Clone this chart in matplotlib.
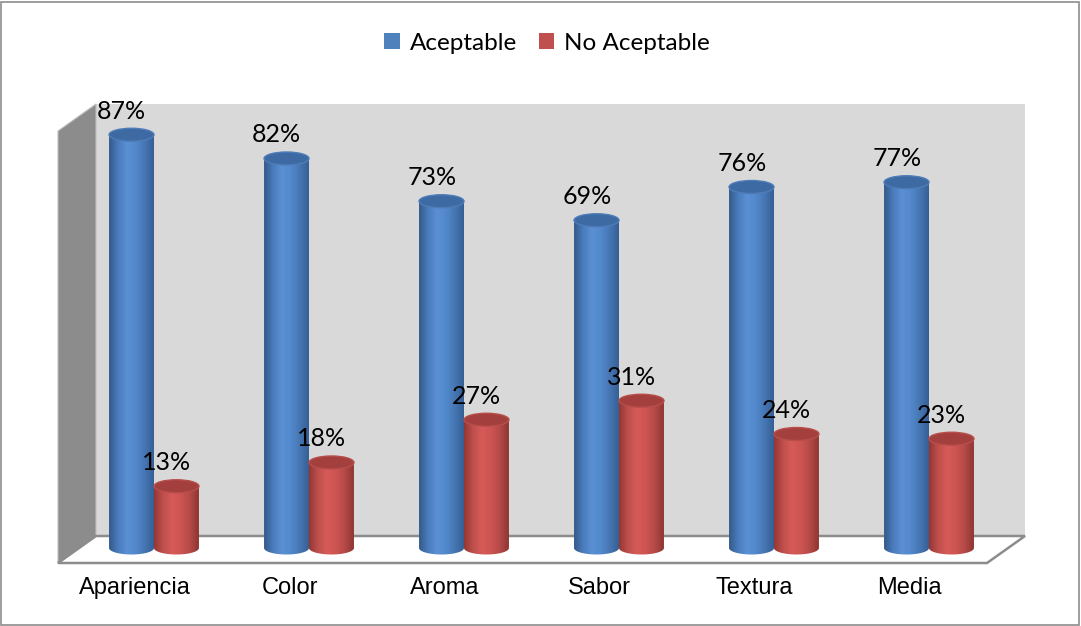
import numpy as np
import matplotlib
matplotlib.use("Agg")
import matplotlib.pyplot as plt
from matplotlib.patches import Polygon, Rectangle, Ellipse, Patch, PathPatch
from matplotlib.path import Path
from matplotlib.colors import LinearSegmentedColormap

categories = ["Apariencia", "Color", "Aroma", "Sabor", "Textura", "Media"]
aceptable = [87, 82, 73, 69, 76, 77]
no_aceptable = [13, 18, 27, 31, 24, 23]
series_names = ["Aceptable", "No Aceptable"]

W, H = 1081, 626
fig = plt.figure(figsize=(W / 100, H / 100), dpi=100)
fig.patch.set_facecolor("white")


def px(x, y):
    return (x / W, 1 - y / H)


# chart border
fig.patches.append(Rectangle((0.5 / W, 1.5 / H), (W - 2.5) / W, (H - 3.5) / H,
                             transform=fig.transFigure, fill=False,
                             edgecolor="#8c8c8c", lw=1.2, zorder=-1))

# 3d walls (decoration)
left_wall = [px(58, 131), px(96, 104), px(96, 536), px(58, 563)]
back_wall = [px(96, 104), px(1025, 104), px(1025, 536), px(96, 536)]
floor = [px(58, 563), px(96, 536), px(1025, 536), px(987, 563)]
fig.patches.append(Polygon(back_wall, closed=True, transform=fig.transFigure,
                           facecolor="#d9d9d9", edgecolor="none", zorder=-1))
fig.patches.append(Polygon(left_wall, closed=True, transform=fig.transFigure,
                           facecolor="#8c8c8c", edgecolor="#bfbfbf", lw=0.8,
                           zorder=-1))
fig.patches.append(Polygon(floor, closed=True, transform=fig.transFigure,
                           facecolor="white", edgecolor="#8c8c8c", lw=1.8,
                           zorder=-1))

px_per_unit = 4.75
ymin, ymax = -5, 100
zero_px = 548
ax = fig.add_axes([76.5 / W, (H - zero_px - (-ymin) * px_per_unit) / H,
                   930 / W, (ymax - ymin) * px_per_unit / H])
ax.set_zorder(2)
ax.set_xlim(-0.5, 5.5)
ax.set_ylim(ymin, ymax)
ax.axis("off")
ax.patch.set_alpha(0)

ell_h = 13 / px_per_unit
bw = 0.29

blue_cmap = LinearSegmentedColormap.from_list(
    "b", ["#34598a", "#4a7cbc", "#5b90d4", "#5289cc", "#4676b3", "#365f94"])
red_cmap = LinearSegmentedColormap.from_list(
    "r", ["#933734", "#bf4f4c", "#d65b58", "#cd5452", "#b54a47", "#8e3532"])
styles = [
    dict(cmap=blue_cmap, top="#3d6aa2", rim="#4f7cb8"),
    dict(cmap=red_cmap, top="#a3403d", rim="#b84e4b"),
]
grad = np.linspace(0, 1, 128).reshape(1, -1)
theta = np.linspace(np.pi, 2 * np.pi, 60)


def cylinder(xc, val, st):
    x0, x1 = xc - bw / 2, xc + bw / 2
    arc = np.column_stack([xc + bw / 2 * np.cos(theta),
                           ell_h / 2 * np.sin(theta)])
    verts = np.vstack([[x0, val], arc, [x1, val], [x0, val]])
    codes = [Path.MOVETO] + [Path.LINETO] * (len(verts) - 2) + [Path.CLOSEPOLY]
    body = PathPatch(Path(verts, codes), facecolor="none", edgecolor="none")
    ax.add_patch(body)
    im = ax.imshow(grad, cmap=st["cmap"], aspect="auto",
                   extent=(x0, x1, -ell_h, val), zorder=2)
    im.set_clip_path(body)
    ax.add_patch(Ellipse((xc, val), bw, ell_h, facecolor=st["top"],
                         edgecolor=st["rim"], lw=1.0, zorder=3))


for i, cat in enumerate(categories):
    for j, vals in enumerate([aceptable, no_aceptable]):
        xc = i + (j - 0.5) * bw
        cylinder(xc, vals[i], styles[j])
        ax.annotate(f"{vals[i]}%", (xc, vals[i] + ell_h / 2),
                    xytext=(-7, 4), textcoords="offset points",
                    ha="center", va="bottom", fontsize=18,
                    family="Lato", color="black", zorder=5,
                    annotation_clip=False)
    ax.annotate(cat, (i, 0), xytext=(-14, -29), textcoords="offset points",
                ha="center", va="center", fontsize=17,
                family="Liberation Sans", color="black",
                annotation_clip=False)

ax.set_xlim(-0.5, 5.5)
ax.set_ylim(ymin, ymax)

handles = [Patch(facecolor="#4f81bd", edgecolor="none"),
           Patch(facecolor="#c0504d", edgecolor="none")]
fig.legend(handles, series_names, loc="center", bbox_to_anchor=(0.506, 1 - 43 / H),
           ncol=2, frameon=False, handlelength=0.65, handleheight=0.65,
           handletextpad=0.4, columnspacing=0.9,
           prop={"family": "Lato", "size": 17.5})

fig.savefig("out.png", dpi=100)
